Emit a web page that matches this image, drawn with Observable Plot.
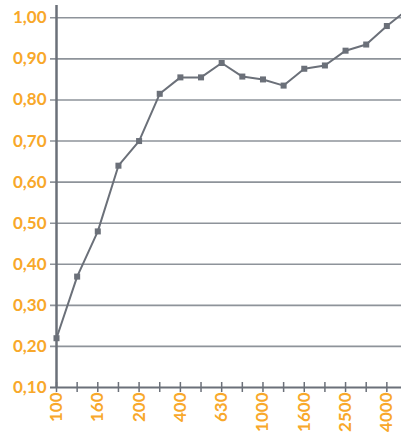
<!DOCTYPE html>
<html><head><meta charset="utf-8">
<script src="https://cdn.jsdelivr.net/npm/d3@7"></script>
<script src="https://cdn.jsdelivr.net/npm/@observablehq/plot@0.6"></script>
<style>
html,body{margin:0;padding:0;overflow:hidden;background:#fff;}
</style>
</head><body>
<div id="chart"></div>
<script>
const categories = ["100","125","160","180","200","315","400","500","630","800","1000","1250","1600","2000","2500","3150","4000","5000"];
const values = [0.22,0.37,0.48,0.64,0.70,0.815,0.855,0.855,0.89,0.857,0.85,0.835,0.876,0.884,0.92,0.935,0.98,1.02];
const tickLabels = ["100","","160","","200","","400","","630","","1000","","1600","","2500","","4000",""];
const yTicks = [0.10,0.20,0.30,0.40,0.50,0.60,0.70,0.80,0.90,1.00];

const data = categories.map((c,i)=>({cat:c, v:values[i]}));
const orange = "#f8a82a";
const gray = "#6b7079";
const fmt = d => d3.format(".2f")(d).replace(".", ",");

const chart = Plot.plot({
  width: 401,
  height: 438,
  marginLeft: 50,
  marginRight: 0,
  marginTop: 5,
  marginBottom: 51,
  style: {fontFamily: "Lato, sans-serif", fontWeight: "bold", fontSize: "17px", overflow: "hidden"},
  x: {type: "point", domain: categories, range: [56, 407], padding: 0, round: false},
  y: {domain: [0.10, 1.03]},
  marks: [
    Plot.ruleY(yTicks.slice(1), {stroke: "#8e939a", strokeWidth: 1.6}),
    Plot.ruleY([yTicks[0]], {stroke: gray, strokeWidth: 2}),
    Plot.axisX({ticks: categories, tickSize: 10, dy: -5, tickFormat: () => "", stroke: gray, strokeWidth: 1.5, strokeOpacity: 1, label: null}),
    Plot.axisX({ticks: categories, tickSize: 0, tickPadding: 5, tickRotate: -90, tickFormat: d => tickLabels[categories.indexOf(d)], fill: orange, fontSize: 17, fontWeight: "bold", label: null}),
    Plot.ruleX([categories[0]], {y1: 0.10, y2: 1.03, stroke: gray, strokeWidth: 2.5}),
    Plot.axisY({ticks: yTicks, tickSize: 0, tickPadding: 4, tickFormat: fmt, fill: orange, fontSize: 17, fontWeight: "bold", label: null}),
    Plot.line(data, {x: "cat", y: "v", stroke: gray, strokeWidth: 2}),
    Plot.dot(data, {x: "cat", y: "v", symbol: "square", r: 3.4, fill: gray, stroke: "none"})
  ]
});
document.getElementById("chart").appendChild(chart);
</script>
</body></html>
